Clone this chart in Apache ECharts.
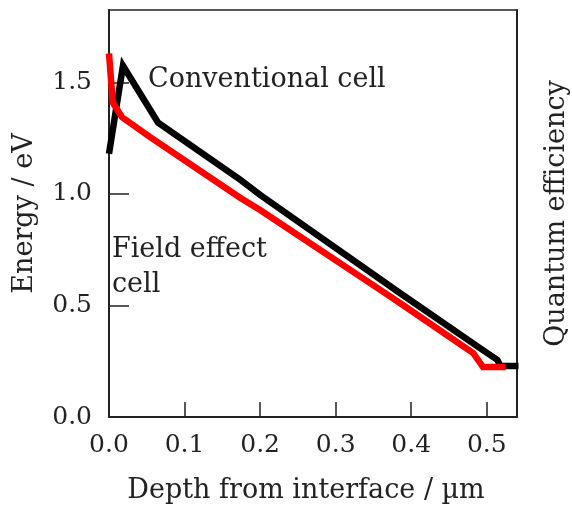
<!DOCTYPE html>
<html>
<head>
<meta charset="utf-8">
<script src="https://cdn.jsdelivr.net/npm/echarts@6/dist/echarts.min.js"></script>
<style>
html,body{margin:0;padding:0;background:#fff;}
#chart{width:572px;height:513px;}
</style>
</head>
<body>
<div id="chart"></div>
<script>
// Conventional cell (black)
var conventionalX = [0.0, 0.0185, 0.065, 0.174, 0.2, 0.385, 0.491, 0.514, 0.518, 0.542];
var conventionalY = [1.18, 1.575, 1.32, 1.063, 0.996, 0.556, 0.309, 0.256, 0.229, 0.229];
// Field effect cell (red)
var fieldX = [0.0, 0.005, 0.017, 0.054, 0.174, 0.2, 0.359, 0.385, 0.482, 0.495, 0.525];
var fieldY = [1.63, 1.41, 1.345, 1.256, 0.982, 0.928, 0.57, 0.511, 0.287, 0.224, 0.224];

var xTicks = [0.0, 0.1, 0.2, 0.3, 0.4, 0.5];
var yTicks = [0.0, 0.5, 1.0, 1.5];

var xTitle = 'Depth from interface / µm';
var yTitle = 'Energy / eV';
var y2Title = 'Quantum efficiency';
var label1 = 'Conventional cell';
var label2 = 'Field effect\ncell';

function pairs(xs, ys) { return xs.map(function (x, i) { return [x, ys[i]]; }); }

var FONT = 'DejaVu Serif';
var TXT = '#222';

var chart = echarts.init(document.getElementById('chart'));
chart.setOption({
  animation: false,
  backgroundColor: '#fff',
  grid: { left: 109, right: 55, top: 10, bottom: 96, show: true, borderColor: '#222', borderWidth: 1.5,
    containLabel: false, outerBoundsMode: 'none' },
  xAxis: {
    type: 'value', min: 0, max: 0.54, interval: 0.1,
    name: xTitle, nameLocation: 'middle', nameGap: 60,
    nameTextStyle: { fontFamily: FONT, fontSize: 27, color: TXT, padding: [0, 14, 0, 0] },
    axisLine: { show: true, lineStyle: { color: '#222', width: 2 } },
    axisTick: { show: true, inside: true, length: 15, lineStyle: { color: '#222', width: 1.5 } },
    axisLabel: { fontFamily: FONT, fontSize: 25, color: TXT, margin: 16, showMaxLabel: false,
      formatter: function (v) { return xTicks.some(function (t) { return Math.abs(t - v) < 1e-6; }) ? v.toFixed(1) : ''; } },
    splitLine: { show: false }
  },
  yAxis: [{
    type: 'value', min: 0, max: 1.825, interval: 0.5,
    name: yTitle, nameLocation: 'middle', nameGap: 71, nameRotate: 90,
    nameTextStyle: { fontFamily: FONT, fontSize: 27, color: TXT },
    axisLine: { show: true, lineStyle: { color: '#222', width: 2 } },
    axisTick: { show: true, inside: true, length: 20, lineStyle: { color: '#222', width: 1.5 } },
    axisLabel: { fontFamily: FONT, fontSize: 25, color: TXT, margin: 17, showMaxLabel: false,
      padding: [0, 0, 8, 0],
      formatter: function (v) { return yTicks.some(function (t) { return Math.abs(t - v) < 1e-6; }) ? v.toFixed(1) : ''; } },
    splitLine: { show: false }
  }, {
    type: 'value', position: 'right', min: 0, max: 1,
    name: y2Title, nameLocation: 'middle', nameGap: 26, nameRotate: 90,
    nameTextStyle: { fontFamily: FONT, fontSize: 27, color: TXT },
    axisLine: { show: true, lineStyle: { color: '#222', width: 2 } },
    axisTick: { show: false }, axisLabel: { show: false }, splitLine: { show: false }
  }],
  series: [{
    type: 'line', data: pairs(fieldX, fieldY), symbol: 'none', clip: false,
    lineStyle: { color: '#ff0000', width: 6.5, join: 'miter', cap: 'butt' }, z: 3
  }, {
    type: 'line', data: pairs(conventionalX, conventionalY), symbol: 'none', clip: false,
    lineStyle: { color: '#000000', width: 6.5, join: 'miter', cap: 'butt' }, z: 2
  }],
  graphic: [{
    type: 'text', x: 148, y: 80,
    style: { text: label1, font: '27px "' + FONT + '"', fill: TXT, verticalAlign: 'middle', align: 'left' }
  }, {
    type: 'text', x: 112, y: 232,
    style: { text: label2, font: '27px "' + FONT + '"', fill: TXT, lineHeight: 35, verticalAlign: 'top', align: 'left' }
  }]
});
</script>
</body>
</html>
